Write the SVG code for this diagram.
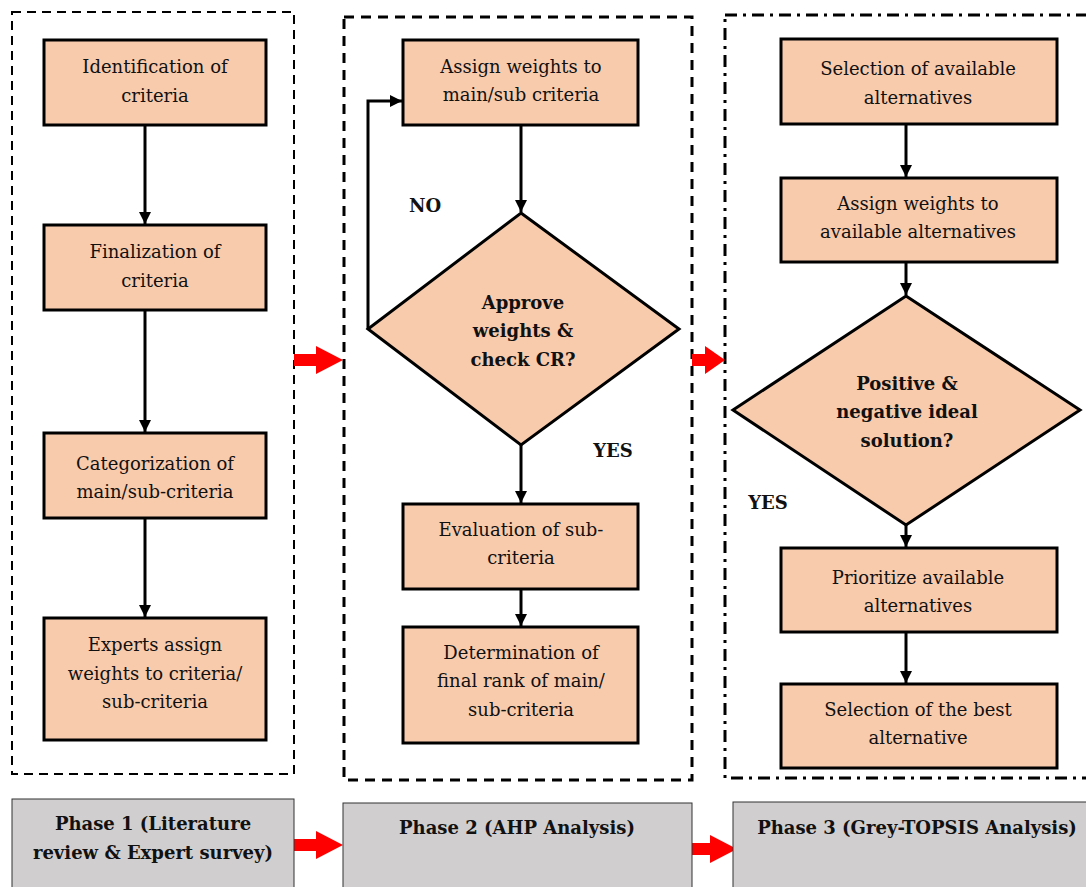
<svg xmlns="http://www.w3.org/2000/svg" width="1086" height="887" viewBox="0 0 1086 887">
<defs>
<style>
.box{fill:#F8CBAD;stroke:#000;stroke-width:3}
.dia{fill:#F8CBAD;stroke:#000;stroke-width:3}
.ph{fill:#D0CECE;stroke:#333;stroke-width:1}
.t{font-family:"DejaVu Serif","Liberation Serif",serif;font-size:18px;fill:#111;text-anchor:middle}
.b{font-weight:bold}
.con{stroke:#000;stroke-width:3;fill:none}
.red{fill:#FF0000}
</style>
<marker id="ahb" markerWidth="12" markerHeight="12" refX="12" refY="6" orient="auto" markerUnits="userSpaceOnUse" viewBox="0 0 12 12">
<path d="M0,0 L12,6 L0,12 Z" fill="#000"/>
</marker>
</defs>
<rect width="1086" height="887" fill="#fff"/>
<g id="frames">
<rect x="12" y="12" width="282" height="762" fill="none" stroke="#000" stroke-width="2" stroke-dasharray="9,6"/>
<rect x="344" y="17" width="348" height="763" fill="none" stroke="#000" stroke-width="3" stroke-dasharray="10,7"/>
<rect x="725" y="15" width="370" height="763" fill="none" stroke="#000" stroke-width="3" stroke-dasharray="12,6,3,6"/>
</g>
<g id="connectors">
<line class="con" x1="145" y1="125" x2="145" y2="224" marker-end="url(#ahb)"/>
<line class="con" x1="145" y1="310" x2="145" y2="432" marker-end="url(#ahb)"/>
<line class="con" x1="145" y1="518" x2="145" y2="617" marker-end="url(#ahb)"/>
<line class="con" x1="521" y1="125" x2="521" y2="212" marker-end="url(#ahb)"/>
<polyline class="con" points="368,329 368,101 402,101" marker-end="url(#ahb)"/>
<line class="con" x1="521" y1="445" x2="521" y2="503" marker-end="url(#ahb)"/>
<line class="con" x1="521" y1="589" x2="521" y2="626" marker-end="url(#ahb)"/>
<line class="con" x1="906" y1="124" x2="906" y2="177" marker-end="url(#ahb)"/>
<line class="con" x1="906" y1="262" x2="906" y2="295" marker-end="url(#ahb)"/>
<line class="con" x1="906" y1="525" x2="906" y2="547" marker-end="url(#ahb)"/>
<line class="con" x1="906" y1="632" x2="906" y2="683" marker-end="url(#ahb)"/>
<path class="red" d="M294,354 H316 V346 L343,360 L316,374 V366 H294 Z"/>
<path class="red" d="M692,354 H705 V346 L725,360 L705,374 V366 H692 Z"/>
<path class="red" d="M294,839 H316 V831 L343,845 L316,859 V851 H294 Z"/>
<path class="red" d="M692,843 H710 V835 L737,849 L710,863 V855 H692 Z"/>
</g>
<g id="n1"><rect class="box" x="44" y="40" width="222" height="85"/><text class="t" x="155" y="73">Identification of</text><text class="t" x="155" y="102">criteria</text></g>
<g id="n2"><rect class="box" x="44" y="225" width="222" height="85"/><text class="t" x="155" y="258">Finalization of</text><text class="t" x="155" y="287">criteria</text></g>
<g id="n3"><rect class="box" x="44" y="433" width="222" height="85"/><text class="t" x="155" y="470">Categorization of</text><text class="t" x="155" y="498">main/sub-criteria</text></g>
<g id="n4"><rect class="box" x="44" y="618" width="222" height="122"/><text class="t" x="155" y="651">Experts assign</text><text class="t" x="155" y="680">weights to criteria/</text><text class="t" x="155" y="708">sub-criteria</text></g>
<g id="n5"><rect class="box" x="403" y="40" width="235" height="85"/><text class="t" x="521" y="73">Assign weights to</text><text class="t" x="521" y="101">main/sub criteria</text></g>
<g id="n6"><polygon class="dia" points="521,213 679,329 521,445 368,329"/><text class="t b" x="523" y="309">Approve</text><text class="t b" x="523" y="337">weights &amp;</text><text class="t b" x="523" y="366">check CR?</text></g>
<g id="n7"><rect class="box" x="403" y="504" width="235" height="85"/><text class="t" x="521" y="536">Evaluation of sub-</text><text class="t" x="521" y="564">criteria</text></g>
<g id="n8"><rect class="box" x="403" y="627" width="235" height="116"/><text class="t" x="521" y="659">Determination of</text><text class="t" x="521" y="687">final rank of main/</text><text class="t" x="521" y="716">sub-criteria</text></g>
<g id="n9"><rect class="box" x="781" y="39" width="276" height="85"/><text class="t" x="918" y="75">Selection of available</text><text class="t" x="918" y="104">alternatives</text></g>
<g id="n10"><rect class="box" x="781" y="178" width="276" height="84"/><text class="t" x="918" y="210">Assign weights to</text><text class="t" x="918" y="238">available alternatives</text></g>
<g id="n11"><polygon class="dia" points="906,296 1080,410 906,525 733,410"/><text class="t b" x="907" y="390">Positive &amp;</text><text class="t b" x="907" y="418">negative ideal</text><text class="t b" x="907" y="447">solution?</text></g>
<g id="n12"><rect class="box" x="781" y="548" width="276" height="84"/><text class="t" x="918" y="584">Prioritize available</text><text class="t" x="918" y="612">alternatives</text></g>
<g id="n13"><rect class="box" x="781" y="684" width="276" height="84"/><text class="t" x="918" y="716">Selection of the best</text><text class="t" x="918" y="744">alternative</text></g>
<g id="labels">
<text class="t b" x="425" y="212">NO</text>
<text class="t b" x="613" y="457">YES</text>
<text class="t b" x="768" y="509">YES</text>
</g>
<g id="p1"><rect class="ph" x="12" y="799" width="282" height="90"/><text class="t b" x="153" y="830">Phase 1 (Literature</text><text class="t b" x="153" y="859">review &amp; Expert survey)</text></g>
<g id="p2"><rect class="ph" x="343" y="803" width="349" height="86"/><text class="t b" x="517" y="834">Phase 2 (AHP Analysis)</text></g>
<g id="p3"><rect class="ph" x="733" y="802" width="360" height="87"/><text class="t b" x="917" y="834">Phase 3 (Grey-TOPSIS Analysis)</text></g>
</svg>
